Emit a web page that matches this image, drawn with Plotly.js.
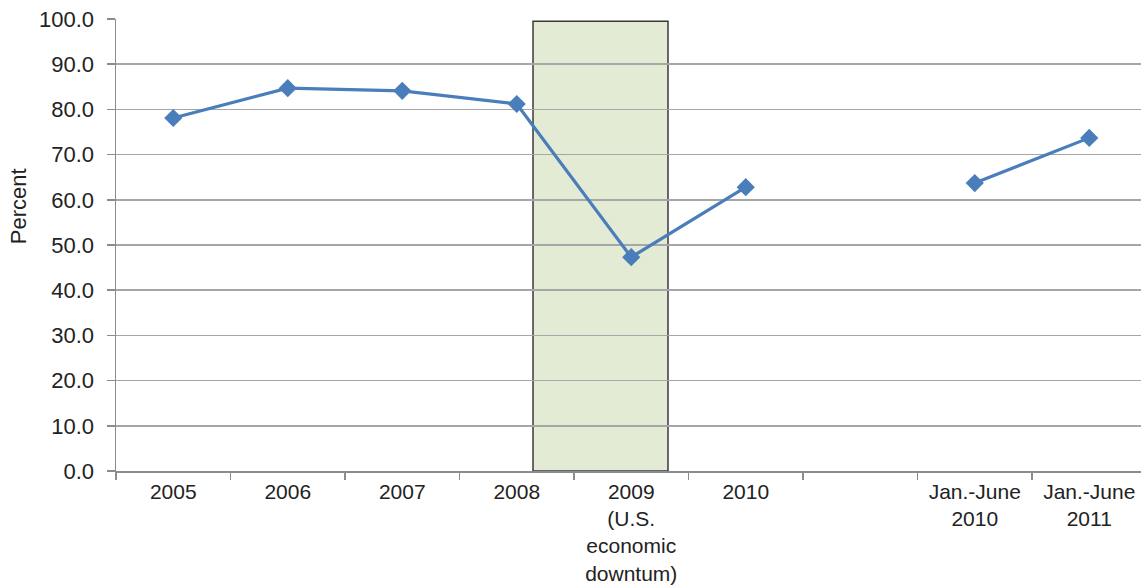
<!DOCTYPE html>
<html>
<head>
<meta charset="utf-8">
<script src="https://cdn.plot.ly/plotly-3.0.1.min.js"></script>
<style>html,body{margin:0;padding:0;background:#fff;}#chart{width:1141px;height:586px;}</style>
</head>
<body>
<div id="chart"></div>
<script>
var categories = ["2005", "2006", "2007", "2008", "2009<br>(U.S.<br>economic<br>downtum)", "2010", " ", "Jan.-June<br>2010", "Jan.-June<br>2011"];
var percentValues = [78.1, 84.7, 84.1, 81.2, 47.3, 62.8, null, 63.7, 73.7];
var yTickValues = [0, 10, 20, 30, 40, 50, 60, 70, 80, 90, 100];
var downturnStart = 3.142;
var downturnEnd = 4.321;
var downturnTop = 99.5;

var blue = "#4a7ebb";
var trace = {
  x: categories,
  y: percentValues,
  type: "scatter",
  mode: "lines+markers",
  connectgaps: false,
  line: {color: blue, width: 3.2},
  marker: {symbol: "diamond", size: 14, color: blue},
  hoverinfo: "y"
};

var layout = {
  width: 1141,
  height: 586,
  margin: {l: 116, r: 0, t: 19, b: 115},
  paper_bgcolor: "#ffffff",
  plot_bgcolor: "#ffffff",
  showlegend: false,
  font: {family: "Liberation Sans, Arial, sans-serif", size: 21, color: "#222222"},
  xaxis: {
    type: "category",
    categoryorder: "array",
    categoryarray: categories,
    range: [-0.5, 8.452],
    tickson: "boundaries",
    ticks: "outside",
    ticklen: 7,
    tickwidth: 1.5,
    tickcolor: "#8c8c8c",
    showgrid: false,
    showline: true,
    linecolor: "#8c8c8c",
    linewidth: 1.5,
    zeroline: false,
    tickfont: {size: 21, color: "#222222"},
    ticklabelstandoff: 1,
    fixedrange: true
  },
  yaxis: {
    range: [0, 100],
    tickvals: yTickValues,
    tickformat: ".1f",
    ticks: "outside",
    ticklen: 8,
    tickwidth: 1.5,
    tickcolor: "#8c8c8c",
    showgrid: true,
    gridcolor: "#a6a6a6",
    gridwidth: 1.5,
    showline: true,
    linecolor: "#8c8c8c",
    linewidth: 1.5,
    zeroline: false,
    tickfont: {size: 22, color: "#222222"},
    ticklabelstandoff: 8,
    fixedrange: true
  },
  shapes: [{
    type: "rect",
    xref: "x",
    yref: "y",
    x0: downturnStart,
    x1: downturnEnd,
    y0: 0,
    y1: downturnTop,
    fillcolor: "#e3ebd4",
    line: {color: "#3a3a3a", width: 1.5},
    layer: "below"
  }],
  annotations: [{
    text: "Percent",
    xref: "paper",
    yref: "paper",
    x: -0.0956,
    y: 0.586,
    xanchor: "center",
    yanchor: "middle",
    textangle: -90,
    showarrow: false,
    font: {size: 22, color: "#222222"}
  }]
};

Plotly.newPlot("chart", [trace], layout, {displayModeBar: false, staticPlot: true});
</script>
</body>
</html>
